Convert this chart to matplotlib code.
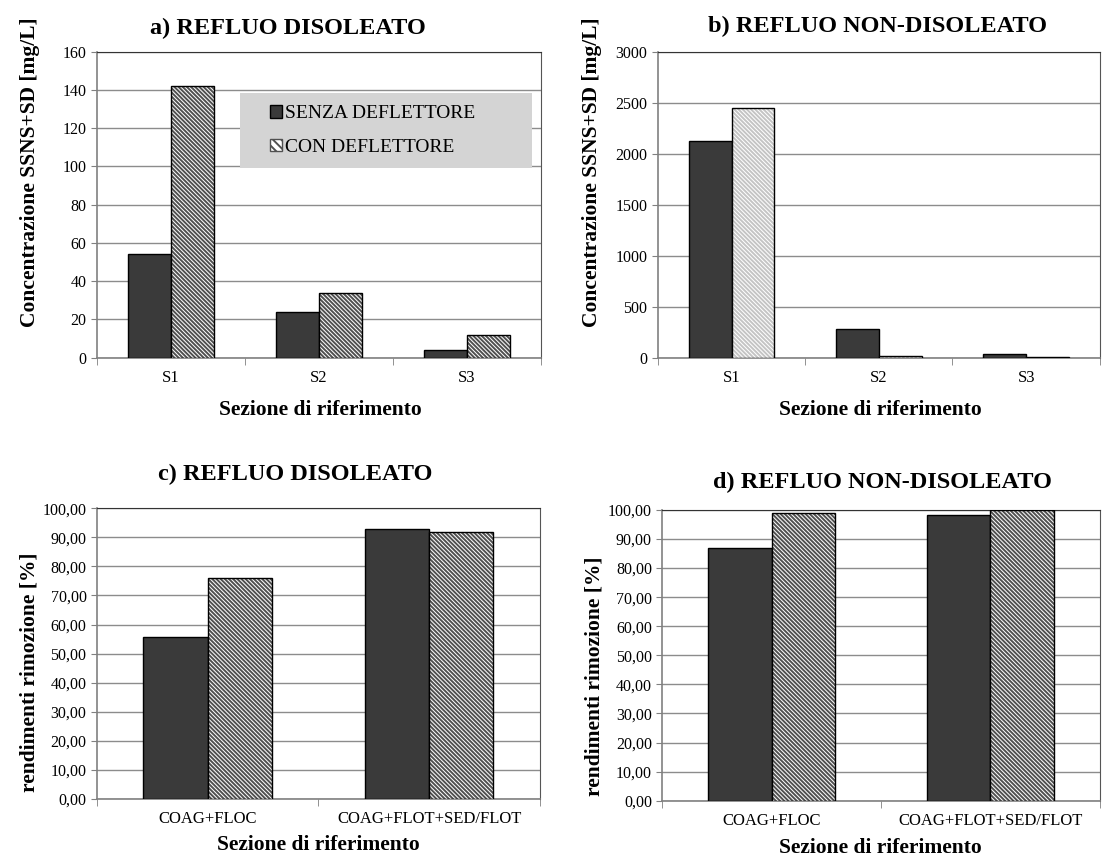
import matplotlib
matplotlib.use("Agg")
import matplotlib.pyplot as plt
import numpy as np
from matplotlib.ticker import FuncFormatter, FixedLocator, NullFormatter
from matplotlib.patches import Patch, Rectangle

plt.rcParams["font.family"] = ["Liberation Serif", "DejaVu Serif"]
plt.rcParams["hatch.linewidth"] = 1.4

SERIES = ["SENZA DEFLETTORE", "CON DEFLETTORE"]

# pannelli a) e b): concentrazione per sezione
sezioni = ["S1", "S2", "S3"]
a_senza = [54, 24, 4]
a_con = [142, 34, 12]
b_senza = [2120, 280, 40]
b_con = [2450, 20, 10]

# pannelli c) e d): rendimenti di rimozione
trattamenti = ["COAG+FLOC", "COAG+FLOT+SED/FLOT"]
c_senza = [55.6, 92.7]
c_con = [76.1, 91.7]
d_senza = [87.0, 98.2]
d_con = [99.1, 99.9]

DARK = "#3a3a3a"
HATCH = "\\" * 8
BAR_W = 0.29
W, H = 1102, 860


def draw_panel(ax, cats, senza, con, ymax, ystep, hatch_col="#505050", comma=False):
    x = np.arange(len(cats))
    ax.bar(x - BAR_W / 2, senza, BAR_W, color=DARK, edgecolor="black", linewidth=1.0, zorder=3)
    ax.bar(x + BAR_W / 2, con, BAR_W, color="white", edgecolor=hatch_col,
           hatch=HATCH, linewidth=0, zorder=3)
    ax.bar(x + BAR_W / 2, con, BAR_W, fill=False, edgecolor="black", linewidth=1.0, zorder=4)

    ax.set_xlim(-0.5, len(cats) - 0.5)
    ax.set_ylim(0, ymax)
    ax.set_yticks(np.arange(0, ymax + ystep / 2, ystep))
    if comma:
        ax.yaxis.set_major_formatter(FuncFormatter(lambda v, p: f"{v:.2f}".replace(".", ",")))
    ax.set_xticks(x)
    ax.set_xticklabels(cats, fontsize=12)
    ax.tick_params(axis="x", which="major", length=0, pad=9)
    ax.xaxis.set_minor_locator(FixedLocator(np.arange(-0.5, len(cats), 1.0)))
    ax.xaxis.set_minor_formatter(NullFormatter())
    ax.tick_params(axis="x", which="minor", length=5, color="#808080")
    ax.tick_params(axis="y", labelsize=11.5, length=4, color="#808080")

    ax.grid(axis="y", color="#8c8c8c", linewidth=1.0, zorder=0)
    ax.set_axisbelow(True)
    for s in ["left", "bottom"]:
        ax.spines[s].set_color("#808080")
        ax.spines[s].set_linewidth(1.2)
    ax.spines["top"].set_color("#333333")
    ax.spines["right"].set_color("#555555")


def label(px, py, text, size, rot=0):
    fig.text(px / W, 1 - py / H, text, fontsize=size, fontweight="bold",
             rotation=rot, ha="center", va="center")


fig = plt.figure(figsize=(11.02, 8.6), dpi=100)
ax_a = fig.add_axes([0.088, 0.584, 0.403, 0.356])
ax_b = fig.add_axes([0.597, 0.584, 0.401, 0.356])
ax_c = fig.add_axes([0.088, 0.071, 0.402, 0.338])
ax_d = fig.add_axes([0.601, 0.069, 0.397, 0.338])

draw_panel(ax_a, sezioni, a_senza, a_con, 160, 20)
draw_panel(ax_b, sezioni, b_senza, b_con, 3000, 500, hatch_col="#c4c4c4")
draw_panel(ax_c, trattamenti, c_senza, c_con, 100, 10, comma=True)
draw_panel(ax_d, trattamenti, d_senza, d_con, 100, 10, comma=True)

label(288, 28, "a) REFLUO DISOLEATO", 17.5)
label(878, 26, "b) REFLUO NON-DISOLEATO", 17.5)
label(295, 474, "c) REFLUO DISOLEATO", 17.5)
label(882, 482, "d) REFLUO NON-DISOLEATO", 17.5)

label(30, 172, "Concentrazione SSNS+SD [mg/L]", 15.5, rot=90)
label(592, 172, "Concentrazione SSNS+SD [mg/L]", 15.5, rot=90)
label(30, 672, "rendimenti rimozione [%]", 15.5, rot=90)
label(594, 676, "rendimenti rimozione [%]", 15.5, rot=90)

label(320, 410, "Sezione di riferimento", 15.5)
label(880, 410, "Sezione di riferimento", 15.5)
label(318, 845, "Sezione di riferimento", 15.5)
label(880, 848, "Sezione di riferimento", 15.5)

# riquadro grigio della legenda
ax_a.add_patch(Rectangle((0.322, 0.62), 0.658, 0.244, transform=ax_a.transAxes,
                         facecolor="#d4d4d4", edgecolor="none", zorder=4.5))
handles = [Patch(facecolor=DARK, edgecolor="black", label=SERIES[0]),
           Patch(facecolor="white", edgecolor="#505050", hatch="\\" * 4, label=SERIES[1])]
leg = ax_a.legend(handles=handles, loc="center left", bbox_to_anchor=(0.39, 0.742),
                  fontsize=14, frameon=False, handlelength=0.6, handleheight=0.6,
                  handletextpad=0.15, labelspacing=0.85, borderpad=0, borderaxespad=0)
leg.set_zorder(5)

fig.savefig("out.png", dpi=100)
